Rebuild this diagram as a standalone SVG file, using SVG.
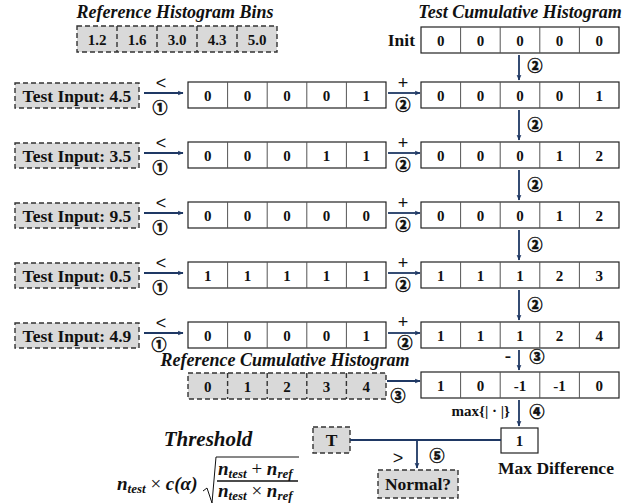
<svg xmlns="http://www.w3.org/2000/svg" width="633" height="504" viewBox="0 0 633 504">
  <defs>
    <marker id="ah" viewBox="0 0 10 10" refX="9" refY="5" markerWidth="6" markerHeight="6" orient="auto" markerUnits="userSpaceOnUse">
      <path d="M0,0.8 L10,5 L0,9.2 L2.5,5 Z" fill="#1f3864"/>
    </marker>
    <style>
      .t{font-family:"Liberation Serif","Times New Roman",serif;font-weight:bold;fill:#111}
      .c{font-size:15px;text-anchor:middle}
      .ttl{font-size:18px;font-style:italic;text-anchor:middle}
      .lbl{font-size:17.5px}
      .circ{font-family:"Noto Sans CJK SC","DejaVu Sans",sans-serif;font-weight:900;font-size:15px;text-anchor:middle;fill:#111;stroke:#111;stroke-width:0.45}
      .op{font-family:"Liberation Sans","DejaVu Sans",sans-serif;font-size:18px;text-anchor:middle;fill:#111}
      .box{fill:#fff;stroke:#222;stroke-width:1.2}
      .div{stroke:#555;stroke-width:1}
      .dash{fill:#d9d9d9;stroke:#333;stroke-width:1.4;stroke-dasharray:5,3}
      .ddiv{stroke:#333;stroke-width:1.4;stroke-dasharray:5,3}
      .arr{stroke:#1f3864;stroke-width:1.8;fill:none}
      .m{font-family:"Liberation Serif","Times New Roman",serif;font-weight:bold;font-style:italic;fill:#111}
    </style>
  </defs>

  <!-- reference histogram bins -->
  <g id="ref-bins">
    <text class="t ttl" x="175" y="18">Reference Histogram Bins</text>
    <rect class="dash" x="77" y="26" width="200" height="26"/>
    <line class="ddiv" x1="117" y1="26" x2="117" y2="52"/>
    <line class="ddiv" x1="157" y1="26" x2="157" y2="52"/>
    <line class="ddiv" x1="197" y1="26" x2="197" y2="52"/>
    <line class="ddiv" x1="237" y1="26" x2="237" y2="52"/>
    <text class="t c" x="97" y="44.5">1.2</text>
    <text class="t c" x="137" y="44.5">1.6</text>
    <text class="t c" x="177" y="44.5">3.0</text>
    <text class="t c" x="217" y="44.5">4.3</text>
    <text class="t c" x="257" y="44.5">5.0</text>
  </g>

  <!-- test cumulative histogram, initial state -->
  <g id="cum-init">
    <text class="t ttl" x="520" y="18">Test Cumulative Histogram</text>
    <text class="t lbl" x="415" y="46" text-anchor="end">Init</text>
    <rect class="box" x="421" y="27" width="198" height="26"/>
    <line class="div" x1="460.6" y1="27" x2="460.6" y2="53"/>
    <line class="div" x1="500.2" y1="27" x2="500.2" y2="53"/>
    <line class="div" x1="539.8" y1="27" x2="539.8" y2="53"/>
    <line class="div" x1="579.4" y1="27" x2="579.4" y2="53"/>
    <text class="t c" x="440.8" y="45.5">0</text>
    <text class="t c" x="480.4" y="45.5">0</text>
    <text class="t c" x="520" y="45.5">0</text>
    <text class="t c" x="559.6" y="45.5">0</text>
    <text class="t c" x="599.2" y="45.5">0</text>
  </g>

  <!-- row 1 -->
  <g id="input-1">
    <rect class="dash" x="15" y="83" width="124" height="25"/>
    <text class="t lbl" x="77" y="101.5" text-anchor="middle">Test Input: 4.5</text>
  </g>
  <g id="mask-1">
    <rect class="box" x="188" y="82" width="198" height="26"/>
    <line class="div" x1="227.6" y1="82" x2="227.6" y2="108"/>
    <line class="div" x1="267.2" y1="82" x2="267.2" y2="108"/>
    <line class="div" x1="306.8" y1="82" x2="306.8" y2="108"/>
    <line class="div" x1="346.4" y1="82" x2="346.4" y2="108"/>
    <text class="t c" x="207.8" y="100.5">0</text>
    <text class="t c" x="247.4" y="100.5">0</text>
    <text class="t c" x="287" y="100.5">0</text>
    <text class="t c" x="326.6" y="100.5">0</text>
    <text class="t c" x="366.2" y="100.5">1</text>
  </g>
  <g id="cum-1">
    <rect class="box" x="421" y="82" width="198" height="26"/>
    <line class="div" x1="460.6" y1="82" x2="460.6" y2="108"/>
    <line class="div" x1="500.2" y1="82" x2="500.2" y2="108"/>
    <line class="div" x1="539.8" y1="82" x2="539.8" y2="108"/>
    <line class="div" x1="579.4" y1="82" x2="579.4" y2="108"/>
    <text class="t c" x="440.8" y="100.5">0</text>
    <text class="t c" x="480.4" y="100.5">0</text>
    <text class="t c" x="520" y="100.5">0</text>
    <text class="t c" x="559.6" y="100.5">0</text>
    <text class="t c" x="599.2" y="100.5">1</text>
  </g>

  <!-- row 2 -->
  <g id="input-2">
    <rect class="dash" x="15" y="143" width="124" height="25"/>
    <text class="t lbl" x="77" y="161.5" text-anchor="middle">Test Input: 3.5</text>
  </g>
  <g id="mask-2">
    <rect class="box" x="188" y="142" width="198" height="26"/>
    <line class="div" x1="227.6" y1="142" x2="227.6" y2="168"/>
    <line class="div" x1="267.2" y1="142" x2="267.2" y2="168"/>
    <line class="div" x1="306.8" y1="142" x2="306.8" y2="168"/>
    <line class="div" x1="346.4" y1="142" x2="346.4" y2="168"/>
    <text class="t c" x="207.8" y="160.5">0</text>
    <text class="t c" x="247.4" y="160.5">0</text>
    <text class="t c" x="287" y="160.5">0</text>
    <text class="t c" x="326.6" y="160.5">1</text>
    <text class="t c" x="366.2" y="160.5">1</text>
  </g>
  <g id="cum-2">
    <rect class="box" x="421" y="142" width="198" height="26"/>
    <line class="div" x1="460.6" y1="142" x2="460.6" y2="168"/>
    <line class="div" x1="500.2" y1="142" x2="500.2" y2="168"/>
    <line class="div" x1="539.8" y1="142" x2="539.8" y2="168"/>
    <line class="div" x1="579.4" y1="142" x2="579.4" y2="168"/>
    <text class="t c" x="440.8" y="160.5">0</text>
    <text class="t c" x="480.4" y="160.5">0</text>
    <text class="t c" x="520" y="160.5">0</text>
    <text class="t c" x="559.6" y="160.5">1</text>
    <text class="t c" x="599.2" y="160.5">2</text>
  </g>

  <!-- row 3 -->
  <g id="input-3">
    <rect class="dash" x="15" y="203" width="124" height="25"/>
    <text class="t lbl" x="77" y="221.5" text-anchor="middle">Test Input: 9.5</text>
  </g>
  <g id="mask-3">
    <rect class="box" x="188" y="202" width="198" height="26"/>
    <line class="div" x1="227.6" y1="202" x2="227.6" y2="228"/>
    <line class="div" x1="267.2" y1="202" x2="267.2" y2="228"/>
    <line class="div" x1="306.8" y1="202" x2="306.8" y2="228"/>
    <line class="div" x1="346.4" y1="202" x2="346.4" y2="228"/>
    <text class="t c" x="207.8" y="220.5">0</text>
    <text class="t c" x="247.4" y="220.5">0</text>
    <text class="t c" x="287" y="220.5">0</text>
    <text class="t c" x="326.6" y="220.5">0</text>
    <text class="t c" x="366.2" y="220.5">0</text>
  </g>
  <g id="cum-3">
    <rect class="box" x="421" y="202" width="198" height="26"/>
    <line class="div" x1="460.6" y1="202" x2="460.6" y2="228"/>
    <line class="div" x1="500.2" y1="202" x2="500.2" y2="228"/>
    <line class="div" x1="539.8" y1="202" x2="539.8" y2="228"/>
    <line class="div" x1="579.4" y1="202" x2="579.4" y2="228"/>
    <text class="t c" x="440.8" y="220.5">0</text>
    <text class="t c" x="480.4" y="220.5">0</text>
    <text class="t c" x="520" y="220.5">0</text>
    <text class="t c" x="559.6" y="220.5">1</text>
    <text class="t c" x="599.2" y="220.5">2</text>
  </g>

  <!-- row 4 -->
  <g id="input-4">
    <rect class="dash" x="15" y="263" width="124" height="25"/>
    <text class="t lbl" x="77" y="281.5" text-anchor="middle">Test Input: 0.5</text>
  </g>
  <g id="mask-4">
    <rect class="box" x="188" y="262" width="198" height="26"/>
    <line class="div" x1="227.6" y1="262" x2="227.6" y2="288"/>
    <line class="div" x1="267.2" y1="262" x2="267.2" y2="288"/>
    <line class="div" x1="306.8" y1="262" x2="306.8" y2="288"/>
    <line class="div" x1="346.4" y1="262" x2="346.4" y2="288"/>
    <text class="t c" x="207.8" y="280.5">1</text>
    <text class="t c" x="247.4" y="280.5">1</text>
    <text class="t c" x="287" y="280.5">1</text>
    <text class="t c" x="326.6" y="280.5">1</text>
    <text class="t c" x="366.2" y="280.5">1</text>
  </g>
  <g id="cum-4">
    <rect class="box" x="421" y="262" width="198" height="26"/>
    <line class="div" x1="460.6" y1="262" x2="460.6" y2="288"/>
    <line class="div" x1="500.2" y1="262" x2="500.2" y2="288"/>
    <line class="div" x1="539.8" y1="262" x2="539.8" y2="288"/>
    <line class="div" x1="579.4" y1="262" x2="579.4" y2="288"/>
    <text class="t c" x="440.8" y="280.5">1</text>
    <text class="t c" x="480.4" y="280.5">1</text>
    <text class="t c" x="520" y="280.5">1</text>
    <text class="t c" x="559.6" y="280.5">2</text>
    <text class="t c" x="599.2" y="280.5">3</text>
  </g>

  <!-- row 5 -->
  <g id="input-5">
    <rect class="dash" x="15" y="323" width="124" height="25"/>
    <text class="t lbl" x="77" y="341.5" text-anchor="middle">Test Input: 4.9</text>
  </g>
  <g id="mask-5">
    <rect class="box" x="188" y="322" width="198" height="26"/>
    <line class="div" x1="227.6" y1="322" x2="227.6" y2="348"/>
    <line class="div" x1="267.2" y1="322" x2="267.2" y2="348"/>
    <line class="div" x1="306.8" y1="322" x2="306.8" y2="348"/>
    <line class="div" x1="346.4" y1="322" x2="346.4" y2="348"/>
    <text class="t c" x="207.8" y="340.5">0</text>
    <text class="t c" x="247.4" y="340.5">0</text>
    <text class="t c" x="287" y="340.5">0</text>
    <text class="t c" x="326.6" y="340.5">0</text>
    <text class="t c" x="366.2" y="340.5">1</text>
  </g>
  <g id="cum-5">
    <rect class="box" x="421" y="322" width="198" height="26"/>
    <line class="div" x1="460.6" y1="322" x2="460.6" y2="348"/>
    <line class="div" x1="500.2" y1="322" x2="500.2" y2="348"/>
    <line class="div" x1="539.8" y1="322" x2="539.8" y2="348"/>
    <line class="div" x1="579.4" y1="322" x2="579.4" y2="348"/>
    <text class="t c" x="440.8" y="340.5">1</text>
    <text class="t c" x="480.4" y="340.5">1</text>
    <text class="t c" x="520" y="340.5">1</text>
    <text class="t c" x="559.6" y="340.5">2</text>
    <text class="t c" x="599.2" y="340.5">4</text>
  </g>

  <!-- reference cumulative histogram -->
  <g id="ref-cum">
    <text class="t ttl" x="285" y="366" font-size="17">Reference Cumulative Histogram</text>
    <rect class="dash" x="188" y="373" width="198" height="26"/>
    <line class="ddiv" x1="227.6" y1="373" x2="227.6" y2="399"/>
    <line class="ddiv" x1="267.2" y1="373" x2="267.2" y2="399"/>
    <line class="ddiv" x1="306.8" y1="373" x2="306.8" y2="399"/>
    <line class="ddiv" x1="346.4" y1="373" x2="346.4" y2="399"/>
    <text class="t c" x="207.8" y="391.5">0</text>
    <text class="t c" x="247.4" y="391.5">1</text>
    <text class="t c" x="287" y="391.5">2</text>
    <text class="t c" x="326.6" y="391.5">3</text>
    <text class="t c" x="366.2" y="391.5">4</text>
  </g>

  <!-- difference -->
  <g id="diff">
    <rect class="box" x="421" y="372" width="198" height="26"/>
    <line class="div" x1="460.6" y1="372" x2="460.6" y2="398"/>
    <line class="div" x1="500.2" y1="372" x2="500.2" y2="398"/>
    <line class="div" x1="539.8" y1="372" x2="539.8" y2="398"/>
    <line class="div" x1="579.4" y1="372" x2="579.4" y2="398"/>
    <text class="t c" x="440.8" y="390.5">1</text>
    <text class="t c" x="480.4" y="390.5">0</text>
    <text class="t c" x="520" y="390.5">-1</text>
    <text class="t c" x="559.6" y="390.5">-1</text>
    <text class="t c" x="599.2" y="390.5">0</text>
  </g>

  <!-- max difference -->
  <g id="max-diff">
    <rect class="box" x="501" y="428" width="37" height="25"/>
    <text class="t c" x="519.5" y="446">1</text>
    <text class="t lbl" x="556" y="474" text-anchor="middle">Max Difference</text>
  </g>

  <!-- threshold -->
  <g id="threshold">
    <text class="m" x="208" y="446" font-size="21" text-anchor="middle">Threshold</text>
    <text class="m" x="117" y="490" font-size="19">n<tspan font-size="13" dy="3">test</tspan><tspan dy="-3" font-style="normal" font-weight="normal"> × </tspan>c(α)</text>
    <path d="M203,491 L207,488 L212,503 L216,457 L299,457" fill="none" stroke="#111" stroke-width="1"/>
    <line x1="217" y1="481" x2="298" y2="481" stroke="#111" stroke-width="1.3"/>
    <text class="m" x="218" y="475" font-size="19">n<tspan font-size="13" dy="3">test</tspan><tspan dy="-3" font-style="normal" font-weight="normal"> + </tspan>n<tspan font-size="13" dy="3">ref</tspan></text>
    <text class="m" x="218" y="497" font-size="19">n<tspan font-size="13" dy="3">test</tspan><tspan dy="-3" font-style="normal" font-weight="normal"> × </tspan>n<tspan font-size="13" dy="3">ref</tspan></text>
  </g>
  <g id="T">
    <rect class="dash" x="313" y="427" width="37" height="26"/>
    <text class="t lbl" x="331.5" y="446" text-anchor="middle">T</text>
  </g>
  <g id="normal">
    <rect class="dash" x="378" y="470" width="80" height="28"/>
    <text class="t lbl" x="418" y="490" text-anchor="middle">Normal?</text>
  </g>

  <!-- connectors -->
  <g id="connectors">
    <!-- input to mask: compare (1) -->
    <line class="arr" x1="144" y1="93" x2="183" y2="93" marker-end="url(#ah)"/>
    <line class="arr" x1="144" y1="153" x2="183" y2="153" marker-end="url(#ah)"/>
    <line class="arr" x1="144" y1="213" x2="183" y2="213" marker-end="url(#ah)"/>
    <line class="arr" x1="144" y1="273" x2="183" y2="273" marker-end="url(#ah)"/>
    <line class="arr" x1="144" y1="333" x2="183" y2="333" marker-end="url(#ah)"/>
    <!-- mask to cumulative: add (2) -->
    <line class="arr" x1="388" y1="93" x2="420" y2="93" marker-end="url(#ah)"/>
    <line class="arr" x1="388" y1="153" x2="420" y2="153" marker-end="url(#ah)"/>
    <line class="arr" x1="388" y1="213" x2="420" y2="213" marker-end="url(#ah)"/>
    <line class="arr" x1="388" y1="273" x2="420" y2="273" marker-end="url(#ah)"/>
    <line class="arr" x1="388" y1="333" x2="420" y2="333" marker-end="url(#ah)"/>
    <!-- cumulative chain -->
    <line class="arr" x1="519" y1="55" x2="519" y2="80" marker-end="url(#ah)"/>
    <line class="arr" x1="519" y1="110" x2="519" y2="140" marker-end="url(#ah)"/>
    <line class="arr" x1="519" y1="170" x2="519" y2="200" marker-end="url(#ah)"/>
    <line class="arr" x1="519" y1="230" x2="519" y2="260" marker-end="url(#ah)"/>
    <line class="arr" x1="519" y1="290" x2="519" y2="320" marker-end="url(#ah)"/>
    <line class="arr" x1="519" y1="350" x2="519" y2="370" marker-end="url(#ah)"/>
    <!-- reference cumulative to difference -->
    <line class="arr" x1="387" y1="381" x2="420" y2="381" marker-end="url(#ah)"/>
    <!-- difference to max -->
    <line class="arr" x1="519" y1="400" x2="519" y2="426" marker-end="url(#ah)"/>
    <!-- compare threshold with max -->
    <line class="arr" x1="350" y1="440" x2="501" y2="440"/>
    <line class="arr" x1="417" y1="440" x2="417" y2="468" marker-end="url(#ah)"/>

    <!-- operation labels -->
    <g class="op">
      <text x="161" y="89">&lt;</text>
      <text x="161" y="149">&lt;</text>
      <text x="161" y="209">&lt;</text>
      <text x="161" y="269">&lt;</text>
      <text x="161" y="329">&lt;</text>
      <text x="403" y="89">+</text>
      <text x="403" y="149">+</text>
      <text x="403" y="209">+</text>
      <text x="403" y="269">+</text>
      <text x="403" y="328">+</text>
      <text x="398" y="464">&gt;</text>
    </g>
    <text class="t" x="508" y="362" font-size="19" text-anchor="middle">-</text>
    <text class="t" x="510" y="416" font-size="15" text-anchor="end">max{| · |}</text>
    <g class="circ">
      <text x="160" y="113">①</text>
      <text x="160" y="173">①</text>
      <text x="160" y="233">①</text>
      <text x="160" y="293">①</text>
      <text x="159" y="350">①</text>
      <text x="403" y="110">②</text>
      <text x="403" y="170">②</text>
      <text x="403" y="230">②</text>
      <text x="403" y="290">②</text>
      <text x="405" y="348">②</text>
      <text x="535" y="71">②</text>
      <text x="535" y="130">②</text>
      <text x="535" y="190">②</text>
      <text x="535" y="250">②</text>
      <text x="535" y="310">②</text>
      <text x="537" y="362">③</text>
      <text x="398" y="401">③</text>
      <text x="537" y="417">④</text>
      <text x="437" y="461">⑤</text>
    </g>
  </g>
</svg>
